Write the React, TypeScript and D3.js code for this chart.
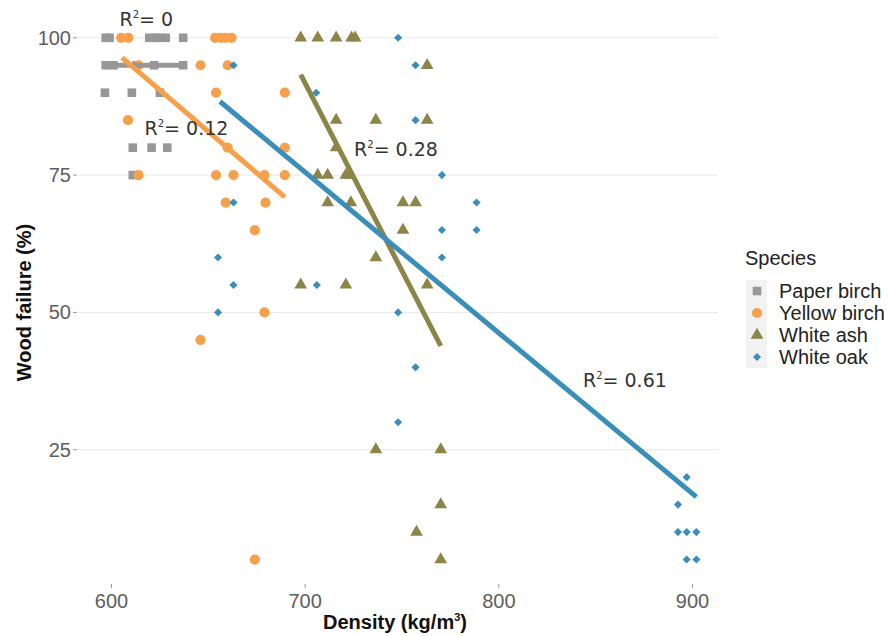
import React from 'react';
import * as d3 from 'd3';

// values: [density, wood failure]
const paperBirch: [number, number][] = [
  [597, 100], [599, 100], [619.5, 100], [622.5, 100], [625, 100], [628, 100], [637, 100],
  [597, 95], [601, 95], [613, 95], [622, 95], [637, 95],
  [596.6, 90], [610.5, 90], [625, 90],
  [611, 80], [620.7, 80], [628.8, 80],
  [611, 75],
];
const yellowBirch: [number, number][] = [
  [605, 100], [608.7, 100], [653.5, 100], [656.5, 100], [659, 100], [662, 100],
  [614, 95], [646, 95], [660, 95],
  [654, 90], [689.5, 90],
  [608.5, 85],
  [660, 80], [689.5, 80],
  [614, 75], [654, 75], [663, 75], [679, 75], [689.5, 75],
  [659, 70], [679.5, 70],
  [674, 65],
  [679, 50],
  [646, 45],
  [674, 5],
];
const whiteAsh: [number, number][] = [
  [697.7, 100], [706.5, 100], [716, 100], [724, 100], [725.8, 100],
  [763, 95],
  [716, 85], [736.5, 85], [763, 85],
  [716, 80],
  [706.5, 75], [711.6, 75], [721, 75], [723, 75],
  [711.6, 70], [723.6, 70], [750.5, 70], [757, 70],
  [750.5, 65],
  [736.5, 60],
  [697.7, 55], [721, 55], [763, 55],
  [736.5, 25], [770, 25],
  [770, 15],
  [757.5, 10],
  [770, 5],
];
const whiteOak: [number, number][] = [
  [748, 100],
  [663, 95], [757, 95],
  [705.7, 90],
  [757, 85],
  [770.6, 75],
  [663, 70], [788.5, 70],
  [770.6, 65], [788.5, 65],
  [655, 60], [770.6, 60],
  [663, 55], [706, 55],
  [655, 50], [748, 50],
  [757, 40],
  [748, 30],
  [897, 20],
  [892.5, 15],
  [892.5, 10], [897, 10], [902, 10],
  [897, 5], [902, 5],
];

// fitted lines, endpoints [x0, y0, x1, y1]
const fitLines: [number, number, number, number][] = [
  [597, 95, 638, 95],
  [605.4, 96.4, 689.5, 71.0],
  [697.7, 93.3, 770, 43.9],
  [656, 88.4, 902, 16.4],
];

const speciesNames = ['Paper birch', 'Yellow birch', 'White ash', 'White oak'];
const speciesColors = ['#979797', '#F7A04B', '#8B8548', '#3A8EBA'];
const speciesData = [paperBirch, yellowBirch, whiteAsh, whiteOak];

const r2Labels = ['0', '0.12', '0.28', '0.61'];
const r2Pos: [number, number][] = [[618, 102.2], [638.7, 82.3], [746.9, 78.5], [865.1, 36.4]];

const xTicks = [600, 700, 800, 900];
const yTicks = [25, 50, 75, 100];

const W = 891, H = 636;
const panel = { left: 78, right: 718, top: 12, bottom: 585 };

const x = d3.scaleLinear().domain([600, 900]).range([111.5, 692.5]);
const y = d3.scaleLinear().domain([0, 100]).range([587, 37.8]);

const shapes = [
  d3.symbol().type(d3.symbolSquare).size(74),
  d3.symbol().type(d3.symbolCircle).size(82),
  d3.symbol().type(d3.symbolTriangle).size(70),
  d3.symbol().type(d3.symbolSquare).size(33),
];
const rot = [0, 0, 0, 45];

const lineGen = d3.line<[number, number]>().x(d => x(d[0])).y(d => y(d[1]));

function R2({ px, py, v }: { px: number; py: number; v: string }) {
  return (
    <text x={px} y={py} textAnchor="middle" fontFamily="DejaVu Sans" fontSize={19} fill="#333">
      R<tspan fontSize={10} dy={-8}>2</tspan><tspan dy={8}>= {v}</tspan>
    </text>
  );
}

export default function App() {
  const axisFont = 'Liberation Sans, Arial, sans-serif';
  return (
    <svg width={W} height={H} style={{ position: 'absolute', left: 0, top: 0, background: '#fff' }}>
      {yTicks.map(t => (
        <g key={t}>
          <line x1={panel.left} x2={panel.right} y1={y(t)} y2={y(t)} stroke="#e8e8e8" strokeWidth={1} />
          <line x1={73} x2={77} y1={y(t)} y2={y(t)} stroke="#999" strokeWidth={1} />
          <text x={71} y={y(t) + 7} textAnchor="end" fontFamily={axisFont} fontSize={20} fill="#5e5e5e">{t}</text>
        </g>
      ))}
      {xTicks.map(t => (
        <g key={t}>
          <line x1={x(t)} x2={x(t)} y1={584} y2={588} stroke="#999" strokeWidth={1} />
          <text x={x(t)} y={608} textAnchor="middle" fontFamily={axisFont} fontSize={20} fill="#5e5e5e">{t}</text>
        </g>
      ))}

      {speciesData.map((data, i) => (
        <g key={speciesNames[i]} fill={speciesColors[i]}>
          {data.map((d, j) => (
            <path key={j} d={shapes[i]() || ''}
              transform={`translate(${x(d[0])},${y(d[1])}) rotate(${rot[i]})`} />
          ))}
        </g>
      ))}

      {fitLines.map((l, i) => (
        <path key={i} d={lineGen([[l[0], l[1]], [l[2], l[3]]]) || ''}
          stroke={speciesColors[i]} strokeWidth={5} fill="none" />
      ))}

      {r2Labels.map((v, i) => (
        <R2 key={v} px={x(r2Pos[i][0])} py={y(r2Pos[i][1])} v={v} />
      ))}

      <text x={(panel.left + panel.right) / 2 - 3} y={629} textAnchor="middle" fontFamily={axisFont}
        fontWeight="bold" fontSize={20} fill="#111">
        Density (kg/m<tspan fontSize={11} dy={-8}>3</tspan><tspan dy={8}>)</tspan>
      </text>
      <text transform={`translate(31,${(panel.top + panel.bottom) / 2 + 4}) rotate(-90)`} textAnchor="middle"
        fontFamily={axisFont} fontWeight="bold" fontSize={20} fill="#111">
        Wood failure (%)
      </text>

      <text x={745} y={265} fontFamily={axisFont} fontSize={20} fill="#222">Species</text>
      {speciesNames.map((n, i) => {
        const cy = 291 + i * 22;
        return (
          <g key={n}>
            <rect x={746} y={cy - 11} width={21} height={22} fill="#f2f2f2" />
            <path d={shapes[i]() || ''} fill={speciesColors[i]}
              transform={`translate(757,${cy}) rotate(${rot[i]})`} />
            <text x={779} y={cy + 7} fontFamily={axisFont} fontSize={20} fill="#222">{n}</text>
          </g>
        );
      })}
    </svg>
  );
}
